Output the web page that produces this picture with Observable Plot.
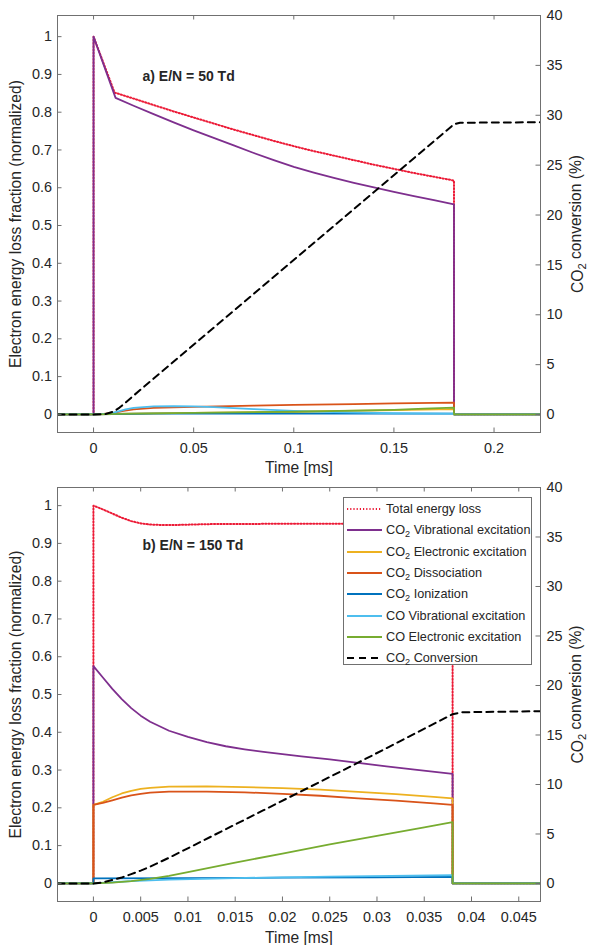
<!DOCTYPE html>
<html>
<head>
<meta charset="utf-8">
<script src="https://cdn.jsdelivr.net/npm/d3@7"></script>
<script src="https://cdn.jsdelivr.net/npm/@observablehq/plot@0.6"></script>
<style>
  body { margin: 0; background: #fff; }
  #wrap { position: relative; width: 590px; height: 945px; font-family: "Liberation Sans", Arial, Helvetica, sans-serif; color: #262626; }
  #wrap svg { display: block; }
  .legend { position: absolute; box-sizing: border-box; background: #fff; border: 1px solid #707070; }
  .legend .row { position: absolute; left: 0; height: 20px; width: 100%; }
  .legend .row svg { position: absolute; left: 3px; top: 0; }
  .legend .row span { position: absolute; left: 42px; top: 2px; font-size: 12.7px; white-space: nowrap; line-height: 16px; }
  .legend sub { font-size: 72%; vertical-align: -0.38em; line-height: 0; }
</style>
</head>
<body>
<div id="wrap"></div>
<script>
// ---------------- DATA ----------------
const seriesNames = ["Total energy loss", "CO_2 Vibrational excitation", "CO_2 Electronic excitation",
  "CO_2 Dissociation", "CO_2 Ionization", "CO Vibrational excitation", "CO Electronic excitation", "CO_2 Conversion"];
const seriesColors = ["#ec1a36", "#7E2F8E", "#EDB120", "#D95319", "#0072BD", "#4DBEEE", "#77AC30", "#000000"];

// Panel a) E/N = 50 Td   [time (ms), fraction]
const aTotal = [[-0.018,0],[0,0],[0,1],[0.0105,0.852],[0.02,0.836],[0.03,0.819],[0.04,0.802],[0.05,0.786],[0.06,0.77],[0.07,0.754],[0.08,0.739],[0.09,0.724],[0.10,0.71],[0.11,0.697],[0.12,0.685],[0.13,0.673],[0.14,0.661],[0.15,0.65],[0.16,0.639],[0.17,0.629],[0.18,0.619],[0.18,0],[0.2232,0]];
const aVib = [[-0.018,0],[0,0],[0,1],[0.011,0.838],[0.02,0.817],[0.03,0.795],[0.04,0.773],[0.05,0.752],[0.06,0.732],[0.07,0.712],[0.08,0.692],[0.09,0.673],[0.10,0.655],[0.11,0.64],[0.12,0.626],[0.13,0.613],[0.14,0.601],[0.15,0.589],[0.16,0.578],[0.17,0.567],[0.18,0.556],[0.18,0],[0.2232,0]];
const aElec = [[-0.018,0],[0,0],[0.01,0.001],[0.05,0.004],[0.1,0.007],[0.15,0.011],[0.18,0.014],[0.18,0],[0.2232,0]];
const aDiss = [[-0.018,0],[0,0],[0.005,0.001],[0.01,0.004],[0.015,0.009],[0.02,0.013],[0.03,0.017],[0.05,0.02],[0.08,0.023],[0.1,0.025],[0.13,0.027],[0.15,0.029],[0.18,0.031],[0.18,0],[0.2232,0]];
const aIon = [[-0.018,0],[0,0],[0.01,0.001],[0.03,0.002],[0.1,0.002],[0.18,0.002],[0.18,0],[0.2232,0]];
const aCOVib = [[-0.018,0],[0,0],[0.008,0.002],[0.012,0.007],[0.016,0.013],[0.02,0.017],[0.03,0.021],[0.04,0.022],[0.05,0.021],[0.06,0.019],[0.08,0.014],[0.1,0.009],[0.12,0.006],[0.15,0.003],[0.18,0.002],[0.18,0],[0.2232,0]];
const aCOElec = [[-0.018,0],[0,0],[0.02,0.002],[0.05,0.004],[0.1,0.007],[0.13,0.01],[0.15,0.012],[0.165,0.015],[0.18,0.018],[0.18,0],[0.2232,0]];
const aConv = [[-0.018,0],[0,0],[0.006,0.05],[0.01,0.3],[0.013,0.7],[0.016,1.2],[0.02,1.9],[0.18,29.1],[0.183,29.25],[0.2232,29.3]]; // %

// Panel b) E/N = 150 Td
const bTotal = [[-0.0038,0],[0,0],[0,1],[0.001,0.99],[0.002,0.979],[0.003,0.968],[0.004,0.959],[0.005,0.953],[0.006,0.95],[0.007,0.949],[0.009,0.949],[0.012,0.951],[0.02,0.952],[0.03,0.952],[0.038,0.952],[0.038,0],[0.0473,0]];
const bVib = [[-0.0038,0],[0,0],[0,0.575],[0.001,0.545],[0.002,0.515],[0.003,0.488],[0.004,0.464],[0.005,0.444],[0.006,0.428],[0.007,0.416],[0.008,0.404],[0.01,0.388],[0.012,0.374],[0.014,0.363],[0.016,0.355],[0.018,0.348],[0.02,0.342],[0.022,0.336],[0.025,0.328],[0.028,0.319],[0.031,0.31],[0.034,0.301],[0.038,0.29],[0.038,0],[0.0473,0]];
const bElec = [[-0.0038,0],[0,0],[0,0.208],[0.001,0.216],[0.002,0.228],[0.003,0.238],[0.004,0.245],[0.005,0.25],[0.006,0.253],[0.008,0.256],[0.012,0.257],[0.016,0.255],[0.02,0.252],[0.024,0.248],[0.028,0.242],[0.032,0.236],[0.036,0.229],[0.038,0.225],[0.038,0],[0.0473,0]];
const bDiss = [[-0.0038,0],[0,0],[0,0.208],[0.001,0.213],[0.002,0.22],[0.003,0.227],[0.004,0.233],[0.005,0.237],[0.006,0.24],[0.008,0.243],[0.012,0.243],[0.016,0.241],[0.02,0.237],[0.024,0.232],[0.028,0.225],[0.032,0.219],[0.036,0.212],[0.038,0.208],[0.038,0],[0.0473,0]];
const bIon = [[-0.0038,0],[0,0],[0,0.013],[0.01,0.014],[0.02,0.015],[0.03,0.016],[0.038,0.017],[0.038,0],[0.0473,0]];
const bCOVib = [[-0.0038,0],[0,0],[0.002,0.003],[0.004,0.006],[0.008,0.01],[0.015,0.014],[0.025,0.018],[0.038,0.022],[0.038,0],[0.0473,0]];
const bCOElec = [[-0.0038,0],[0,0],[0.002,0.002],[0.004,0.006],[0.006,0.012],[0.008,0.02],[0.01,0.03],[0.015,0.055],[0.02,0.079],[0.025,0.103],[0.03,0.126],[0.035,0.148],[0.038,0.162],[0.038,0],[0.0473,0]];
const bConv = [[-0.0038,0],[0,0],[0.001,0.1],[0.002,0.35],[0.003,0.6],[0.004,0.95],[0.005,1.3],[0.006,1.7],[0.008,2.6],[0.018,7.4],[0.028,12.2],[0.038,17.1],[0.039,17.3],[0.0473,17.4]];

// Ticks
const aXTicks = [0, 0.05, 0.1, 0.15, 0.2];
const bXTicks = [0, 0.005, 0.01, 0.015, 0.02, 0.025, 0.03, 0.035, 0.04, 0.045];
const yTicks = [0, 0.1, 0.2, 0.3, 0.4, 0.5, 0.6, 0.7, 0.8, 0.9, 1];
const rTicks = [0, 5, 10, 15, 20, 25, 30, 35, 40];

const xLabel = "Time [ms]";
const yLabel = "Electron energy loss fraction (normalized)";
const rLabel = "CO_2 conversion (%)";

// ---------------- DRAWING ----------------
const FONT = '"Liberation Sans", Arial, Helvetica, sans-serif';
const frameColor = "#707070", textColor = "#262626";
const TICK_FS = 14.4, LABEL_FS = 15.6;
const fmt = d => String(Math.round(d * 1e6) / 1e6);

function styleFor(i) {
  if (i === 0) return {stroke: seriesColors[0], strokeWidth: 2, strokeDasharray: "1.2,2"};
  if (i === 7) return {stroke: seriesColors[7], strokeWidth: 2, strokeDasharray: "7,5"};
  return {stroke: seriesColors[i], strokeWidth: 1.8};
}

function makePanel(cfg) {
  const W = 590, mL = 57, mR = 50;
  const plotW = W - mL - mR;
  const plotH = cfg.height - cfg.marginTop - cfg.marginBottom;
  const [l0, l1] = cfg.yDomain, [r0, r1] = cfg.rDomain;
  const toLeft = c => l0 + (c - r0) / (r1 - r0) * (l1 - l0);
  const fromLeft = v => r0 + (v - l0) / (l1 - l0) * (r1 - r0);
  const rTickPos = rTicks.map(toLeft);
  const marks = [
    ...cfg.series.map((s, i) => Plot.line(s, {x: d => d[0], y: d => d[1], ...styleFor(i), clip: true})),
    Plot.line(cfg.conv, {x: d => d[0], y: d => toLeft(d[1]), ...styleFor(7), clip: true}),
    Plot.frame({stroke: frameColor}),
    Plot.tickX(cfg.xTicks, {x: d => d, stroke: frameColor, insetTop: plotH - 4.5}),
    Plot.tickX(cfg.xTicks, {x: d => d, stroke: frameColor, insetBottom: plotH - 4.5}),
    Plot.tickY(yTicks, {y: d => d, stroke: frameColor, insetRight: plotW - 4.5}),
    Plot.tickY(rTickPos, {y: d => d, stroke: frameColor, insetLeft: plotW - 4.5}),
    Plot.axisX(cfg.xTicks, {anchor: "bottom", tickSize: 0, tickPadding: 10.5, tickFormat: fmt, fontSize: TICK_FS, color: textColor, label: null}),
    Plot.axisY(yTicks, {anchor: "left", tickSize: 0, tickPadding: 5.5, tickFormat: fmt, fontSize: TICK_FS, color: textColor, label: null}),
    Plot.axisY(rTickPos, {anchor: "right", tickSize: 0, tickPadding: 6, tickFormat: d => String(Math.round(fromLeft(d))), fontSize: TICK_FS, color: textColor, label: null}),
    Plot.text([cfg.title], {text: d => d, frameAnchor: "top-left", dx: 85, dy: cfg.titleDy, textAnchor: "start", lineAnchor: "middle", fontWeight: "bold", fontSize: 14, fill: textColor}),
    Plot.text([xLabel], {text: d => d, frameAnchor: "bottom", dy: cfg.xLabelDy, textAnchor: "middle", lineAnchor: "middle", fontSize: LABEL_FS, fill: textColor}),
    Plot.text([yLabel], {text: d => d, frameAnchor: "left", rotate: -90, dx: -42, textAnchor: "middle", lineAnchor: "middle", fontSize: LABEL_FS, fill: textColor}),
    Plot.text([rLabel], {text: d => d, frameAnchor: "right", rotate: -90, dx: 37, textAnchor: "middle", lineAnchor: "middle", fontSize: LABEL_FS, fill: textColor})
  ];
  const svg = Plot.plot({
    width: W, height: cfg.height,
    marginTop: cfg.marginTop, marginBottom: cfg.marginBottom, marginLeft: mL, marginRight: mR,
    x: {domain: cfg.xDomain},
    y: {domain: cfg.yDomain},
    style: {fontFamily: FONT, background: "#fff", overflow: "visible", color: textColor},
    marks
  });
  // TeX-like subscripts for "CO_2"
  svg.querySelectorAll("text").forEach(t => {
    if (!t.textContent.includes("_2")) return;
    const parts = t.textContent.split("_2");
    t.textContent = "";
    parts.forEach((p, i) => {
      if (i > 0) {
        const s = document.createElementNS("http://www.w3.org/2000/svg", "tspan");
        s.setAttribute("dy", "0.3em"); s.setAttribute("font-size", "72%"); s.textContent = "2";
        t.appendChild(s);
        const r = document.createElementNS("http://www.w3.org/2000/svg", "tspan");
        r.setAttribute("dy", "-0.3em"); r.textContent = p;
        t.appendChild(r);
      } else {
        t.appendChild(document.createTextNode(p));
      }
    });
  });
  return svg;
}

const wrap = document.getElementById("wrap");
wrap.appendChild(makePanel({
  height: 476, marginTop: 15, marginBottom: 44,
  xDomain: [-0.018, 0.2232], yDomain: [-0.048, 1.056], rDomain: [-1.8, 40],
  xTicks: aXTicks, title: "a) E/N = 50 Td", titleDy: 61, xLabelDy: 35,
  series: [aTotal, aVib, aElec, aDiss, aIon, aCOVib, aCOElec], conv: aConv
}));
wrap.appendChild(makePanel({
  height: 469, marginTop: 11, marginBottom: 44,
  xDomain: [-0.0038, 0.0473], yDomain: [-0.048, 1.048], rDomain: [-1.82, 40],
  xTicks: bXTicks, title: "b) E/N = 150 Td", titleDy: 58, xLabelDy: 36,
  series: [bTotal, bVib, bElec, bDiss, bIon, bCOVib, bCOElec], conv: bConv
}));

// Legend (panel b)
const legend = document.createElement("div");
legend.className = "legend";
Object.assign(legend.style, {left: "343px", top: "497px", width: "189px", height: "168px"});
seriesNames.forEach((name, i) => {
  const row = document.createElement("div");
  row.className = "row";
  row.style.top = (1 + i * 21.3) + "px";
  const st = styleFor(i);
  row.innerHTML = `<svg width="36" height="20"><line x1="0" x2="35" y1="10" y2="10" stroke="${st.stroke}" stroke-width="${st.strokeWidth}" ${st.strokeDasharray ? `stroke-dasharray="${st.strokeDasharray}"` : ""}/></svg><span>${name.replace("_2", "<sub>2</sub>")}</span>`;
  legend.appendChild(row);
});
wrap.appendChild(legend);
</script>
</body>
</html>
